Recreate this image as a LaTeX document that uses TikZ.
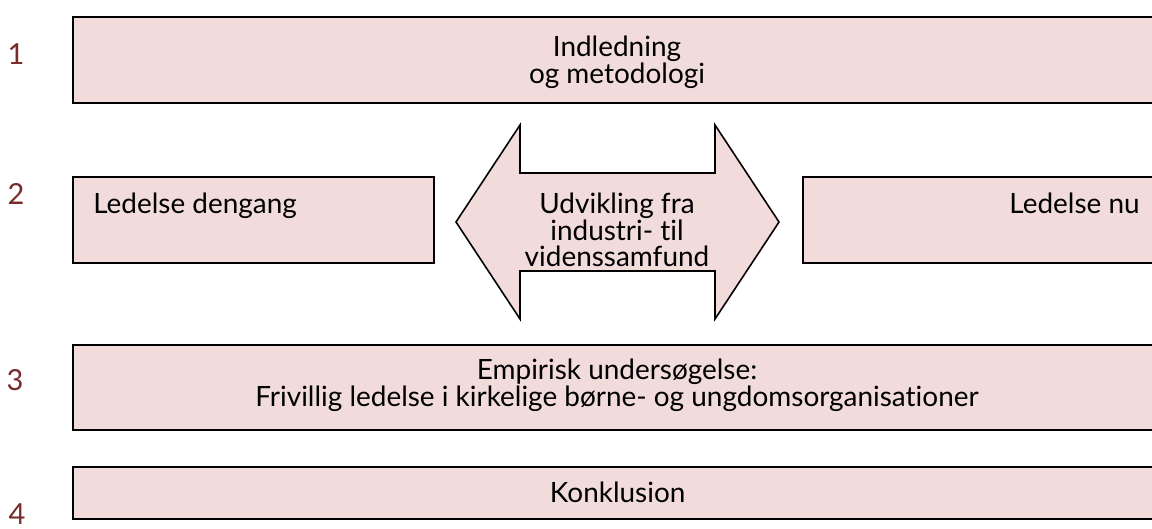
\documentclass[tikz,border=0pt]{standalone}
\usepackage{fontspec}
\setmainfont{Lato}[Ligatures=NoCommon]
\usepackage{tikz}
\usetikzlibrary{positioning}
\definecolor{boxpink}{HTML}{F2DCDB}
\definecolor{numred}{HTML}{772C2A}

\begin{document}
\begin{tikzpicture}[x=0.02cm,y=-0.02cm,
  box/.style={draw=black,line width=0.9pt,fill=boxpink,inner sep=0pt},
  txt/.style={font=\fontsize{15.9}{15.1}\selectfont,align=center,inner sep=0pt},
  num/.style={text=numred,font=\fontsize{16.5}{16}\selectfont,inner sep=0pt}]
\useasboundingbox[fill=white] (0,0) rectangle (1152,528);

% row 1
\node[num] (n1) at (16,54) {1};
\node[box,anchor=north west,minimum width=21.8cm,minimum height=1.72cm] (intro) at (72,16) {};
\node[txt] (introtxt) at (617,62) {Indledning\\og metodologi};

% row 2
\node[num] (n2) at (16,194) {2};
\node[box,anchor=north west,minimum width=7.22cm,minimum height=1.72cm] (dengang) at (72,176) {};
\node[txt,anchor=base west] (dengangtxt) at (93,213) {Ledelse dengang};
\node[box,anchor=north west,minimum width=7.2cm,minimum height=1.72cm] (nu) at (802,176) {};
\node[txt,anchor=base east] (nutxt) at (1140,213) {Ledelse nu};
\draw[box] (456,222) -- (520,125) -- (520,173) -- (715,173) -- (715,125)
  -- (779,222) -- (715,319) -- (715,271) -- (520,271) -- (520,319) -- cycle;
\node[txt] (udv) at (617,230) {Udvikling fra\\industri- til\\videnssamfund};

% row 3
\node[num] (n3) at (15,380) {3};
\node[box,anchor=north west,minimum width=21.8cm,minimum height=1.7cm] (empiri) at (72,344) {};
\node[txt] (empiritxt) at (617,385) {Empirisk undersøgelse:\\Frivillig ledelse i kirkelige børne- og ungdomsorganisationer};

% row 4
\node[num] (n4) at (17,514) {4};
\node[box,anchor=north west,minimum width=21.8cm,minimum height=1.04cm] (konkl) at (72,466) {};
\node[txt] (konkltxt) at (konkl.center) {Konklusion};
\end{tikzpicture}
\end{document}
